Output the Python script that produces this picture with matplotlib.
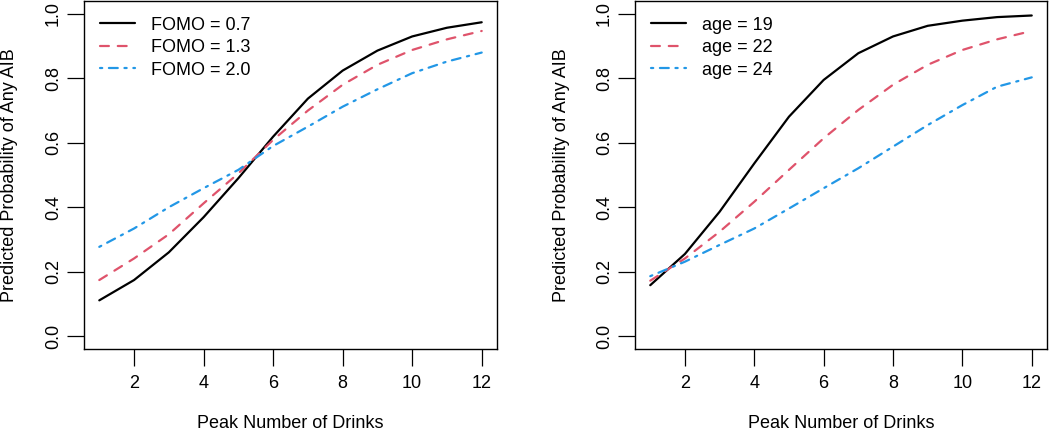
import matplotlib
matplotlib.use("Agg")
import matplotlib.pyplot as plt

plt.rcParams['font.family'] = ['Liberation Sans', 'DejaVu Sans']

drinks = [1, 2, 3, 4, 5, 6, 7, 8, 9, 10, 11, 12]

fomo_labels = ["FOMO = 0.7", "FOMO = 1.3", "FOMO = 2.0"]
fomo_07 = [0.111, 0.174, 0.260, 0.369, 0.490, 0.619, 0.737, 0.824, 0.886, 0.930, 0.957, 0.974]
fomo_13 = [0.174, 0.241, 0.316, 0.412, 0.505, 0.609, 0.700, 0.780, 0.842, 0.888, 0.921, 0.947]
fomo_20 = [0.277, 0.334, 0.400, 0.459, 0.516, 0.590, 0.650, 0.712, 0.766, 0.816, 0.852, 0.880]

age_labels = ["age = 19", "age = 22", "age = 24"]
age_19 = [0.158, 0.255, 0.386, 0.536, 0.681, 0.795, 0.878, 0.930, 0.963, 0.979, 0.990, 0.995]
age_22 = [0.172, 0.241, 0.324, 0.417, 0.516, 0.614, 0.702, 0.780, 0.842, 0.888, 0.921, 0.947]
age_24 = [0.186, 0.231, 0.283, 0.334, 0.396, 0.459, 0.521, 0.588, 0.655, 0.717, 0.774, 0.803]

xticks = [2, 4, 6, 8, 10, 12]
yticks = [0.0, 0.2, 0.4, 0.6, 0.8, 1.0]
xlabel = "Peak Number of Drinks"
ylabel = "Predicted Probability of Any AIB"

colors = ["black", "#DF536B", "#2297E6"]
styles = ["-", (0, (4, 4)), (0, (1, 3, 4, 3))]

W, H = 1050, 433
FS = 13
fig = plt.figure(figsize=(W / 100, H / 100), dpi=100)

def make_panel(left_px, right_px, series, labels, ylab_x):
    ax = fig.add_axes([left_px / W, 1 - 349 / H, (right_px - left_px) / W, 348 / H])
    for s, lab, c, ls in zip(series, labels, colors, styles):
        ax.plot(drinks, s, color=c, linestyle=ls, lw=1.6, label=lab,
                dash_capstyle='round', solid_capstyle='round')
    ax.set_xlim(0.56, 12.44)
    ax.set_ylim(-0.04, 1.04)
    ax.set_xticks(xticks)
    ax.set_xticklabels([str(t) for t in xticks])
    ax.set_yticks(yticks)
    ax.set_yticklabels([f"{t:.1f}" for t in yticks], rotation=90, va='center')
    ax.tick_params(axis='both', length=12, width=0.9, labelsize=FS, color='black')
    ax.tick_params(axis='x', pad=7)
    ax.tick_params(axis='y', pad=4)
    for sp in ax.spines.values():
        sp.set_linewidth(1.0)
    ax.set_xlabel(xlabel, fontsize=FS)
    ax.set_ylabel(ylabel, fontsize=FS)
    ax.xaxis.set_label_coords(0.5, -0.19)
    ax.yaxis.set_label_coords(ylab_x, 0.5)
    ax.legend(loc='upper left', frameon=False, fontsize=FS,
              handlelength=1.95, handletextpad=0.9, labelspacing=0.3,
              borderaxespad=0.3, bbox_to_anchor=(0.008, 0.991))
    return ax

make_panel(84, 497, [fomo_07, fomo_13, fomo_20], fomo_labels, -0.16)
make_panel(635, 1047, [age_19, age_22, age_24], age_labels, -0.158)

fig.savefig("out.png", dpi=100)
